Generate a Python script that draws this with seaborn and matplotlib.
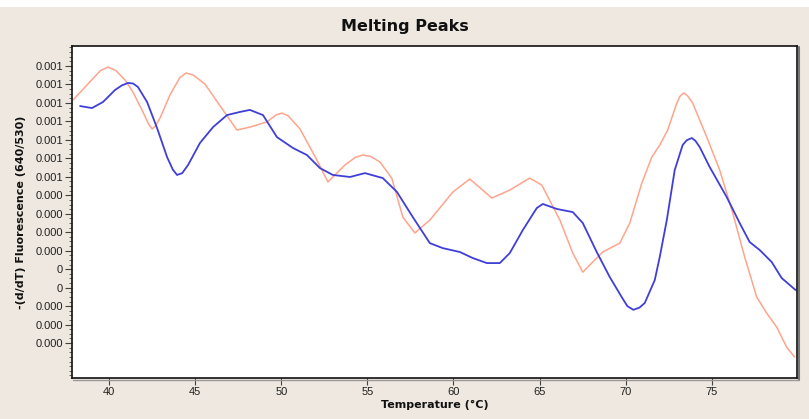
import numpy as np
import pandas as pd
import matplotlib
matplotlib.use("Agg")
import matplotlib.pyplot as plt
import seaborn as sns
from matplotlib.ticker import FixedLocator, AutoMinorLocator
from matplotlib.patches import Rectangle
from matplotlib.lines import Line2D

# ---- data (temperature in °C, signal in tick units of the y axis) ----
orange_temp = [37.91, 38.61, 39.50, 39.94, 40.40, 40.93, 41.39, 41.97, 42.30, 42.50,
               42.70, 42.96, 43.54, 44.10, 44.47, 44.90, 45.57, 46.62, 47.43, 48.18,
               49.17, 49.70, 50.04, 50.40, 51.09, 52.07, 52.71, 53.41,
               53.70, 54.30, 54.74, 55.20, 55.73, 56.42, 57.06, 57.76, 58.63, 59.97, 60.95, 62.23,
               63.27, 64.43, 65.13, 66.18, 66.93, 67.51, 68.67, 69.66, 70.24, 70.94,
               71.52, 71.98, 72.44, 72.97, 73.15, 73.37, 73.60, 73.89, 74.71, 75.46, 76.22, 76.91,
               77.61, 78.19, 78.77, 79.35, 79.81]
orange_val = [13.16, 13.86, 14.75, 14.94, 14.75, 14.24, 13.59, 12.51, 11.85, 11.59,
              11.75, 12.18, 13.43, 14.35, 14.62, 14.50, 14.02, 12.61, 11.53, 11.69,
              11.97, 12.35, 12.45, 12.30, 11.59, 9.91, 8.72, 9.37,
              9.64, 10.05, 10.18, 10.10, 9.80, 8.93, 6.82, 5.96, 6.66, 8.18, 8.88, 7.85,
              8.28, 8.93, 8.55, 6.66, 4.87, 3.84, 4.93, 5.41, 6.50, 8.66,
              10.07, 10.72, 11.53, 12.99, 13.35, 13.54, 13.38, 12.99, 11.15, 9.37, 7.04, 4.66,
              2.49, 1.62, 0.87, -0.22, -0.76]

blue_temp = [38.32, 39.01, 39.65, 40.35, 40.75, 41.10, 41.40, 41.68, 42.21, 42.79, 43.37, 43.70, 43.95,
             44.25, 44.59, 45.28, 46.04, 46.85, 47.60, 48.18, 48.94, 49.75, 50.68, 51.49,
             52.25, 53.00, 53.99, 54.86, 55.90, 56.72, 57.64, 58.63, 59.38, 60.37,
             61.13, 61.94, 62.69, 63.27, 64.03, 64.84, 65.19, 66.00, 66.93, 67.51,
             68.32, 69.08, 69.77, 70.10, 70.45, 70.80, 71.11, 71.69, 71.98, 72.39, 72.85, 73.31,
             73.55, 73.84, 74.05, 74.30, 74.88, 75.87, 76.62, 77.20, 77.78, 78.48, 79.06, 79.87]
blue_val = [12.83, 12.72, 13.05, 13.70, 13.95, 14.08, 14.05, 13.86, 13.05, 11.64, 10.07, 9.40, 9.10,
            9.20, 9.64, 10.83, 11.69, 12.34, 12.51, 12.62, 12.34, 11.15, 10.56, 10.18,
            9.47, 9.10, 8.99, 9.20, 8.93, 8.18, 6.82, 5.41, 5.14, 4.93,
            4.60, 4.33, 4.33, 4.87, 6.12, 7.31, 7.53, 7.26, 7.09, 6.50,
            4.93, 3.57, 2.49, 2.00, 1.80, 1.92, 2.17, 3.41, 4.66, 6.66, 9.37, 10.72,
            10.98, 11.10, 10.95, 10.61, 9.53, 7.90, 6.50, 5.47, 5.04, 4.39, 3.52, 2.87]

x_ticks = [40, 45, 50, 55, 60, 65, 70, 75]
y_ticks = list(range(16))
y_tick_labels = ["0.000", "0.000", "0.000", "0", "0",
                 "0.000", "0.000", "0.000", "0.000",
                 "0.001", "0.001", "0.001", "0.001", "0.001", "0.001", "0.001"]

series_names = ["Sample A", "Sample B"]
series_colors = {"Sample A": "#FFA48C", "Sample B": "#3F3FD8"}

df = pd.concat([
    pd.DataFrame({"Temperature": orange_temp, "Value": orange_val, "Series": series_names[0]}),
    pd.DataFrame({"Temperature": blue_temp, "Value": blue_val, "Series": series_names[1]}),
], ignore_index=True)

sns.set_theme(style="white")
bg = "#EEE8E0"
fig = plt.figure(figsize=(8.09, 4.19), dpi=100, facecolor=bg)
W, H = 809, 419
ax = fig.add_axes([72 / W, 1 - 378 / H, (797 - 72) / W, (378 - 46) / H])
ax.set_facecolor("white")

sns.lineplot(data=df[df.Series == series_names[0]], x="Temperature", y="Value",
             color=series_colors[series_names[0]], linewidth=1.1, estimator=None,
             ax=ax, legend=False)
sns.lineplot(data=df[df.Series == series_names[1]], x="Temperature", y="Value",
             color=series_colors[series_names[1]], linewidth=1.3, estimator=None,
             ax=ax, legend=False)

ax.set_xlim(37.85, 79.95)
ax.set_ylim(-1.89, 16.08)

ax.xaxis.set_major_locator(FixedLocator(x_ticks))
ax.set_xticklabels([str(t) for t in x_ticks])
ax.yaxis.set_major_locator(FixedLocator(y_ticks))
ax.set_yticklabels(y_tick_labels)
ax.yaxis.set_minor_locator(AutoMinorLocator(4))

for lab in ax.get_xticklabels() + ax.get_yticklabels():
    lab.set_fontfamily("Liberation Sans")
    lab.set_fontsize(8)
    lab.set_color("#222222")

ax.tick_params(axis="both", which="major", direction="out", length=5, width=0.8,
               color="#444444", pad=1.5, bottom=True, left=True)
ax.tick_params(axis="y", which="minor", direction="out", length=2.5, width=0.7,
               color="#666666", left=True)

for side, sp in ax.spines.items():
    sp.set_visible(True)
    sp.set_color("#111111")
    sp.set_linewidth(1.2)

ax.set_xlabel("Temperature (°C)", fontsize=8, fontweight="bold", color="#111111",
              family="DejaVu Sans", labelpad=2)
ax.set_ylabel("-(d/dT) Fluorescence (640/530)", fontsize=8, fontweight="bold",
              color="#111111", family="DejaVu Sans")
ax.yaxis.set_label_coords((26 - 72) / (797 - 72), 0.5)

fig.text(0.5, 1 - 27 / H, "Melting Peaks", ha="center", va="center",
         fontsize=11.5, fontweight="bold", color="#111111", family="DejaVu Sans")

# white strip on top and shadow of the frame
fig.patches.append(Rectangle((0, 1 - 7 / H), 1, 7 / H, transform=fig.transFigure,
                             facecolor="white", edgecolor="none", zorder=0))
fig.lines.append(Line2D([798.5 / W, 798.5 / W], [1 - 380 / H, 1 - 47 / H],
                        transform=fig.transFigure, color="#777777", linewidth=1.5))
fig.lines.append(Line2D([73 / W, 799 / W], [1 - 379.5 / H, 1 - 379.5 / H],
                        transform=fig.transFigure, color="#999999", linewidth=1.0))

fig.savefig("out.png", dpi=100, facecolor=bg)
